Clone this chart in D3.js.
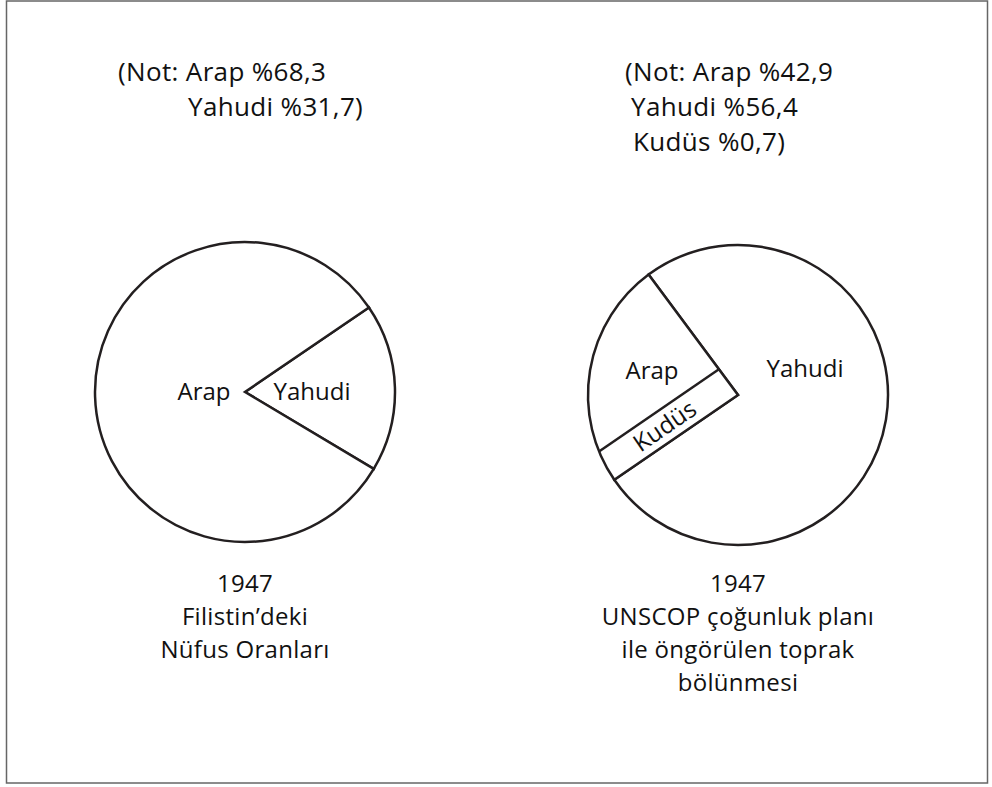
<!DOCTYPE html>
<html>
<head>
<meta charset="utf-8">
<script src="https://cdn.jsdelivr.net/npm/d3@7"></script>
<style>
    body { margin: 0; background: #fff; }
    text { font-family: "Open Sans", "Noto Sans", sans-serif; fill: #111; }
</style>
</head>
<body>
<script>
/* global d3 */

// 1947 population shares (as written in the note) and shares as drawn in the left pie
var leftLabels = ["Yahudi", "Arap"];
var leftNoted = [31.7, 68.3];
var leftDrawn = [18.1, 81.9];
var leftCaption = ["1947", "Filistin\u2019deki", "N\u00fcfus Oranlar\u0131"];

// UNSCOP plan shares (note) and drawn shares; Arap slice includes the Kudüs strip
var rightLabels = ["Yahudi", "Arap", "Kud\u00fcs"];
var rightNoted = [56.4, 42.9, 0.7];
var rightDrawn = [75.6, 24.4];
var rightCaption = ["1947", "UNSCOP \u00e7o\u011funluk plan\u0131", "ile \u00f6ng\u00f6r\u00fclen toprak", "b\u00f6l\u00fcnmesi"];

var width = 992,
        height = 787,
        radius = 150,
        stroke = "#231f20";

var svg = d3.select("body")
        .append("svg")
        .attr("width", width)
        .attr("height", height);

svg.append("rect")
        .attr("x", 6.5).attr("y", 1)
        .attr("width", 981).attr("height", 782)
        .attr("fill", "none")
        .attr("stroke", "#666")
        .attr("stroke-width", 1.5);

var fmt = function (v) {
    return "%" + d3.format(".1f")(v).replace(".", ",");
};
var deg = Math.PI / 180;

var arc = d3.arc().innerRadius(0).outerRadius(radius);

function drawPie(cx, cy, values, start) {
    var pie = d3.pie().sort(null).startAngle(start * deg).endAngle(start * deg + 2 * Math.PI);
    var g = svg.append("g").attr("transform", "translate(" + cx + "," + cy + ")");
    g.selectAll("path")
            .data(pie(values))
            .enter().append("path")
            .attr("d", arc)
            .attr("fill", "#fff")
            .attr("stroke", stroke)
            .attr("stroke-width", 2.5)
            .attr("stroke-linejoin", "miter");
    return {g: g, arcs: pie(values)};
}

// multi-line blocks are one text element with tspans
function note(x0, y0, lines, offsets) {
    svg.append("text")
            .style("font-size", "26px")
            .style("letter-spacing", "0.35px")
            .selectAll("tspan")
            .data(lines)
            .enter().append("tspan")
            .attr("x", function (d, i) { return x0 + offsets[i]; })
            .attr("y", function (d, i) { return y0 + i * 35; })
            .text(function (d) { return d; });
}

function caption(cx, y0, lines) {
    svg.append("text")
            .attr("text-anchor", "middle")
            .style("font-size", "24px")
            .style("letter-spacing", "0.3px")
            .selectAll("tspan")
            .data(lines)
            .enter().append("tspan")
            .attr("x", cx)
            .attr("y", function (d, i) { return y0 + i * 33; })
            .text(function (d) { return d; });
}

// ---- left pie
var L = drawPie(245, 392, leftDrawn, 55.7);
L.g.append("text").attr("x", -41).attr("y", 8).attr("text-anchor", "middle")
        .style("font-size", "24px").text(leftLabels[1]);
L.g.append("text").attr("x", 67).attr("y", 8).attr("text-anchor", "middle")
        .style("font-size", "24px").text(leftLabels[0]);

note(118, 81, ["(Not: " + leftLabels[1] + " " + fmt(leftNoted[1]),
    leftLabels[0] + " " + fmt(leftNoted[0]) + ")"], [0, 70]);
caption(245, 592, leftCaption);

// ---- right pie
var R = drawPie(738, 395, rightDrawn, 323.4);
var stripW = 32;
var a0 = R.arcs[1].startAngle;             // lower edge of the Arap+Kudüs slice
var aB = R.arcs[1].endAngle;               // Arap / Yahudi border
var u = [Math.sin(a0), -Math.cos(a0)];      // along strip
var n = [Math.cos(a0), Math.sin(a0)];       // across strip, toward Arap
var b = [Math.sin(aB), -Math.cos(aB)];
var v = stripW / (b[0] * n[0] + b[1] * n[1]);
var p0 = [v * b[0], v * b[1]];
var s1 = Math.sqrt(radius * radius - stripW * stripW);
var p1 = [n[0] * stripW + u[0] * s1, n[1] * stripW + u[1] * s1];
R.g.append("path")
        .attr("d", d3.line()([p0, p1]))
        .attr("stroke", stroke)
        .attr("stroke-width", 2.5);

var mid = 78;
R.g.append("text")
        .attr("transform", "translate(" + (u[0] * mid + n[0] * stripW / 2) + "," + (u[1] * mid + n[1] * stripW / 2) + ")rotate(" + (Math.atan2(-u[1], -u[0]) / deg) + ")")
        .attr("text-anchor", "middle")
        .attr("dy", "0.35em")
        .style("font-size", "24px")
        .text(rightLabels[2]);
R.g.append("text").attr("x", -86).attr("y", -16).attr("text-anchor", "middle")
        .style("font-size", "24px").text(rightLabels[1]);
R.g.append("text").attr("x", 67).attr("y", -18).attr("text-anchor", "middle")
        .style("font-size", "24px").text(rightLabels[0]);

note(625, 81, ["(Not: " + rightLabels[1] + " " + fmt(rightNoted[1]),
    rightLabels[0] + " " + fmt(rightNoted[0]),
    rightLabels[2] + " " + fmt(rightNoted[2]) + ")"], [0, 6, 8]);
caption(738, 592, rightCaption);
</script>
</body>
</html>
